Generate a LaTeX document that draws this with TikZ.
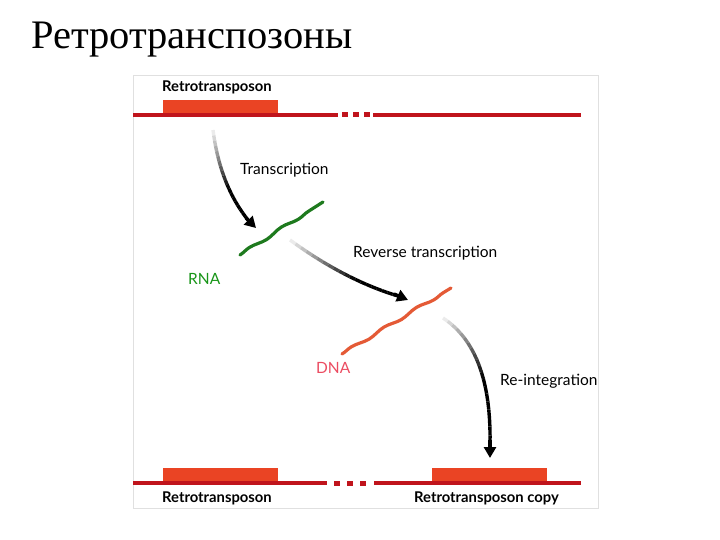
\documentclass[tikz,border=0pt]{standalone}
\usepackage{fontspec}
\setmainfont{Liberation Serif}
\newfontfamily\lab{Lato}
\usetikzlibrary{arrows.meta,decorations.pathmorphing}
\definecolor{dred}{HTML}{C0141C}
\definecolor{ored}{HTML}{EA4424}
\definecolor{rnag}{HTML}{1E7A1E}
\definecolor{dnao}{HTML}{E45A36}
\tikzset{
  chrom/.style={draw=dred,line width=4pt},
  dotsq/.style={fill=dred,minimum width=6pt,minimum height=5pt,inner sep=0pt},
  tebox/.style={fill=ored,minimum width=115pt,minimum height=13pt,inner sep=0pt,anchor=south west},
  lbl/.style={font=\lab\fontsize{15.5}{15.5}\selectfont,anchor=west,inner sep=0pt},
  blbl/.style={lbl,font=\lab\bfseries\fontsize{14.8}{14.8}\selectfont},
  strand/.style={line width=3.2pt,line cap=round,decorate,decoration={snake,amplitude=1.3pt,segment length=38pt}}
}
\begin{document}
\begin{tikzpicture}[x=1pt,y=1pt]
\useasboundingbox (0,0) rectangle (720,-540);
\node[font=\fontsize{40.5}{40.5}\selectfont,anchor=west,inner sep=0pt] (title) at (31,-40) {Ретротранспозоны};
\draw[black!12] (133,-75) rectangle (598,-508);
% top chromosome
\draw[chrom] (133,-115) -- (338,-115);
\draw[chrom] (373,-115) -- (581,-115);
\node[dotsq] (d1) at (345,-115) {}; \node[dotsq] (d2) at (356,-115) {}; \node[dotsq] (d3) at (367,-115) {};
\node[tebox] (te1) at (163,-113) {};
\node[blbl] (l1) at (162,-87) {Retrotransposon};
% bottom chromosome
\draw[chrom] (133,-483) -- (327,-483);
\draw[chrom] (374,-483) -- (581,-483);
\node[dotsq] (e1) at (337,-483) {}; \node[dotsq] (e2) at (350,-483) {}; \node[dotsq] (e3) at (363,-483) {};
\node[tebox] (te2) at (163,-481) {};
\node[tebox] (te3) at (432,-481) {};
\node[blbl] (l2) at (162,-498) {Retrotransposon};
\node[blbl] (l3) at (414,-498) {Retrotransposon copy};
% strands
\coordinate (r1) at (240,-255); \coordinate (r2) at (323,-202);
\draw[strand,rnag] (r1) -- (r2);
\node[lbl,text=rnag!80!green] (rna) at (188,-279) {RNA};
\coordinate (n1) at (342,-354); \coordinate (n2) at (451,-288);
\draw[strand,dnao] (n1) -- (n2);
\node[lbl,text=red!55!purple!70] (dna) at (316,-368) {DNA};
% labels
\node[lbl] (t1) at (240,-170) {Transcription};
\node[lbl] (t2) at (353,-253) {Reverse transcription};
\node[lbl] (t3) at (500,-381) {Re-integration};
% arrows: gradient bodies
\foreach \p/\q/\r/\s/\u/\v in {213/130/220/185/248/220, 290/240/345/280/398/296, 443/318/492/350/490/445}{
  \foreach \i in {0,...,19}{
    \pgfmathsetmacro\ta{\i/20}\pgfmathsetmacro\tb{(\i+1)/20}
    \pgfmathsetmacro\ax{(1-\ta)^2*\p+2*\ta*(1-\ta)*\r+\ta^2*\u}
    \pgfmathsetmacro\ay{(1-\ta)^2*\q+2*\ta*(1-\ta)*\s+\ta^2*\v}
    \pgfmathsetmacro\bx{(1-\tb)^2*\p+2*\tb*(1-\tb)*\r+\tb^2*\u}
    \pgfmathsetmacro\by{(1-\tb)^2*\q+2*\tb*(1-\tb)*\s+\tb^2*\v}
    \pgfmathsetmacro\sh{min(100,8+\i*8)}
    \draw[line width=3.4pt,black!\sh] (\ax,-\ay) -- (\bx,-\by);
  }
}
\coordinate (a1s) at (246,-218); \coordinate (a1e) at (256,-228);
\draw[-{Triangle[length=11pt,width=12pt]},line width=3.4pt] (a1s) -- (a1e);
\coordinate (a2s) at (394,-294); \coordinate (a2e) at (408,-300);
\draw[-{Triangle[length=11pt,width=12pt]},line width=3.4pt] (a2s) -- (a2e);
\coordinate (a3s) at (490,-440); \coordinate (a3e) at (490,-458);
\draw[-{Triangle[length=11pt,width=12pt]},line width=3.4pt] (a3s) -- (a3e);
\end{tikzpicture}
\end{document}
